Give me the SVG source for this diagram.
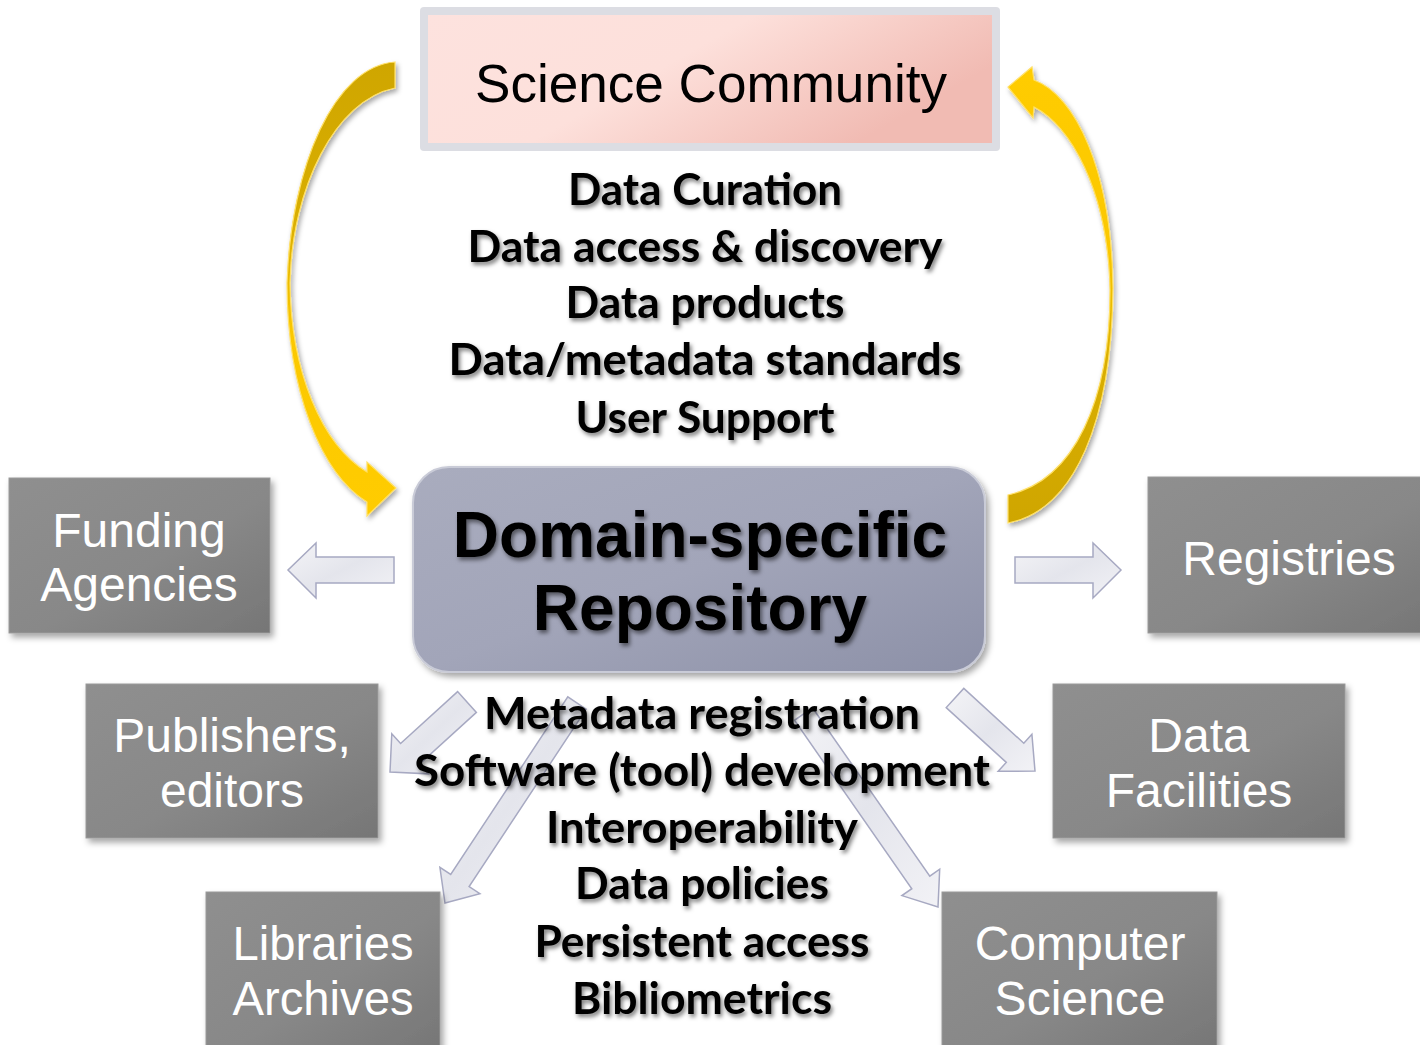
<svg xmlns="http://www.w3.org/2000/svg" width="1420" height="1045" viewBox="0 0 1420 1045">
  <style>
    .boxtxt { font-family: "Liberation Sans", Arial, sans-serif; font-size: 48px; fill: #ffffff; text-anchor: middle; }
    .svc { font-family: Lato, "Open Sans", "DejaVu Sans", sans-serif; font-weight: 700; font-size: 43px; fill: #000000; text-anchor: middle; }
    .repo { font-family: "Liberation Sans", Arial, sans-serif; font-weight: 700; font-size: 64px; fill: #000000; text-anchor: middle; }
    .gbox { fill: url(#grayGrad); stroke: #9a9a9a; stroke-width: 1; }
    .blk { fill: url(#blkGrad); stroke: #a7a9c2; stroke-width: 1.5; stroke-linejoin: miter; }
  </style>
  <defs>
    <linearGradient id="grayGrad" x1="0" y1="0" x2="1" y2="1">
      <stop offset="0" stop-color="#8f8f8f"/>
      <stop offset="0.55" stop-color="#888888"/>
      <stop offset="1" stop-color="#767676"/>
    </linearGradient>
    <linearGradient id="pinkGrad" x1="0" y1="0" x2="1" y2="0.4">
      <stop offset="0" stop-color="#fde2de"/>
      <stop offset="0.5" stop-color="#fde0db"/>
      <stop offset="1" stop-color="#f1bbb3"/>
    </linearGradient>
    <linearGradient id="repoGrad" x1="0" y1="0" x2="1" y2="1">
      <stop offset="0" stop-color="#a9acbe"/>
      <stop offset="0.5" stop-color="#a2a5b9"/>
      <stop offset="1" stop-color="#8c90a7"/>
    </linearGradient>
    <linearGradient id="blkGrad" x1="0" y1="0" x2="1" y2="1">
      <stop offset="0" stop-color="#f4f4f7"/>
      <stop offset="0.5" stop-color="#e4e5ec"/>
      <stop offset="1" stop-color="#f2f2f6"/>
    </linearGradient>
    <linearGradient id="yellowL" gradientUnits="userSpaceOnUse" x1="0" y1="62" x2="0" y2="516">
      <stop offset="0" stop-color="#cfa600"/>
      <stop offset="0.35" stop-color="#d9ae00"/>
      <stop offset="0.6" stop-color="#fbc800"/>
      <stop offset="1" stop-color="#ffcc00"/>
    </linearGradient>
    <linearGradient id="yellowR" gradientUnits="userSpaceOnUse" x1="0" y1="523" x2="0" y2="67">
      <stop offset="0" stop-color="#cfa600"/>
      <stop offset="0.35" stop-color="#d9ae00"/>
      <stop offset="0.6" stop-color="#fbc800"/>
      <stop offset="1" stop-color="#ffcc00"/>
    </linearGradient>
    <filter id="boxShadow" x="-10%" y="-10%" width="125%" height="130%">
      <feDropShadow dx="3" dy="4" stdDeviation="3" flood-color="#000000" flood-opacity="0.35"/>
    </filter>
    <filter id="txtShadow" x="-5%" y="-20%" width="110%" height="150%">
      <feDropShadow dx="2" dy="3" stdDeviation="2" flood-color="#000000" flood-opacity="0.5"/>
    </filter>
    <filter id="arrowShadow" x="-20%" y="-10%" width="140%" height="120%">
      <feDropShadow dx="2" dy="3" stdDeviation="2.5" flood-color="#000000" flood-opacity="0.35"/>
    </filter>
  </defs>

  <rect width="1420" height="1045" fill="#ffffff"/>

  <!-- Connectors -->
  <g id="connectors">
    <g id="cycle-arrows" filter="url(#arrowShadow)" stroke="#ffe066" stroke-width="1.2">
      <path id="arrow-community-to-repo" fill="url(#yellowL)" d="M395,62 C335,66 291,165 287,283 C287,392 322,474 367,502 L367,516 L396,488 L367,462 L367,472 C322,445 291,372 290,283 C292,188 335,100 395,88 Z"/>
      <path id="arrow-repo-to-community" fill="url(#yellowR)" d="M1008,523 C1075,510 1112,420 1113,288 C1112,170 1075,95 1034,80 L1032,67 L1008,87 L1033,118 L1034,107 C1070,125 1108,190 1110,290 C1110,400 1075,480 1008,495 Z"/>
    </g>
    <g id="block-arrows">
      <polygon id="arrow-to-funding" class="blk" points="394,557 316,557 316,543 288,570 316,598 316,583 394,583"/>
      <polygon id="arrow-to-registries" class="blk" points="1015,557 1093,557 1093,543 1121,570 1093,598 1093,583 1015,583"/>
      <polygon id="arrow-to-publishers" class="blk" points="476.4,712.4 419.4,764.2 428.2,773.8 390,772 391.8,733.8 400.6,743.5 457.6,691.6"/>
      <polygon id="arrow-to-libraries" class="blk" points="586.2,709.1 469.1,886.6 479.9,893.7 445,903 439.9,867.3 450.7,874.4 567.8,696.9"/>
      <polygon id="arrow-to-facilities" class="blk" points="963.8,688.4 1023.8,743.2 1031.9,734.3 1035,771 998.2,771.3 1006.3,762.4 946.2,707.6"/>
      <polygon id="arrow-to-cs" class="blk" points="812.5,707.7 929.8,876.1 939.7,869.2 938,907 901.9,895.6 911.8,888.7 794.5,720.3"/>
    </g>
  </g>

  <!-- Nodes -->
  <g id="science-community">
    <rect x="420" y="7" width="580" height="144" rx="4" fill="#dcdde3"/>
    <rect x="428" y="15" width="564" height="128" fill="url(#pinkGrad)"/>
    <text x="711" y="102" font-family="'Liberation Sans', Arial, sans-serif" font-size="54" fill="#000000" text-anchor="middle" textLength="472" lengthAdjust="spacingAndGlyphs">Science Community</text>
  </g>

  <g id="services-top" class="svc" filter="url(#txtShadow)">
    <text x="705" y="205" textLength="274" lengthAdjust="spacingAndGlyphs">Data Curation</text>
    <text x="705" y="262" textLength="475" lengthAdjust="spacingAndGlyphs">Data access &amp; discovery</text>
    <text x="705" y="318" textLength="279" lengthAdjust="spacingAndGlyphs">Data products</text>
    <text x="705" y="375" textLength="513" lengthAdjust="spacingAndGlyphs">Data/metadata standards</text>
    <text x="705" y="433" textLength="259" lengthAdjust="spacingAndGlyphs">User Support</text>
  </g>

  <g id="repository">
    <rect x="413" y="467" width="572" height="205" rx="36" fill="url(#repoGrad)" stroke="#c9cbd7" stroke-width="2" filter="url(#boxShadow)"/>
    <g filter="url(#txtShadow)">
      <text class="repo" x="700" y="557">Domain-specific</text>
      <text class="repo" x="700" y="630">Repository</text>
    </g>
  </g>

  <g id="funding-agencies">
    <rect class="gbox" x="9" y="478" width="261" height="155" filter="url(#boxShadow)"/>
    <text class="boxtxt" x="139" y="547">Funding</text>
    <text class="boxtxt" x="139" y="601">Agencies</text>
  </g>

  <g id="registries">
    <rect class="gbox" x="1148" y="477" width="280" height="156" filter="url(#boxShadow)"/>
    <text class="boxtxt" x="1289" y="575">Registries</text>
  </g>

  <g id="publishers-editors">
    <rect class="gbox" x="86" y="684" width="292" height="154" filter="url(#boxShadow)"/>
    <text class="boxtxt" x="232" y="752">Publishers,</text>
    <text class="boxtxt" x="232" y="807">editors</text>
  </g>

  <g id="data-facilities">
    <rect class="gbox" x="1053" y="684" width="292" height="154" filter="url(#boxShadow)"/>
    <text class="boxtxt" x="1199" y="752">Data</text>
    <text class="boxtxt" x="1199" y="807">Facilities</text>
  </g>

  <g id="libraries-archives">
    <rect class="gbox" x="206" y="892" width="234" height="160" filter="url(#boxShadow)"/>
    <text class="boxtxt" x="323" y="960" textLength="181" lengthAdjust="spacingAndGlyphs">Libraries</text>
    <text class="boxtxt" x="323" y="1015" textLength="181" lengthAdjust="spacingAndGlyphs">Archives</text>
  </g>

  <g id="computer-science">
    <rect class="gbox" x="942" y="892" width="275" height="160" filter="url(#boxShadow)"/>
    <text class="boxtxt" x="1080" y="960">Computer</text>
    <text class="boxtxt" x="1080" y="1015">Science</text>
  </g>

  <g id="services-bottom" class="svc" filter="url(#txtShadow)">
    <text x="702" y="729" textLength="436" lengthAdjust="spacingAndGlyphs">Metadata registration</text>
    <text x="702" y="786" textLength="576" lengthAdjust="spacingAndGlyphs">Software (tool) development</text>
    <text x="702" y="843" textLength="312" lengthAdjust="spacingAndGlyphs">Interoperability</text>
    <text x="702" y="899" textLength="254" lengthAdjust="spacingAndGlyphs">Data policies</text>
    <text x="702" y="957" textLength="335" lengthAdjust="spacingAndGlyphs">Persistent access</text>
    <text x="702" y="1014" textLength="260" lengthAdjust="spacingAndGlyphs">Bibliometrics</text>
  </g>
</svg>
